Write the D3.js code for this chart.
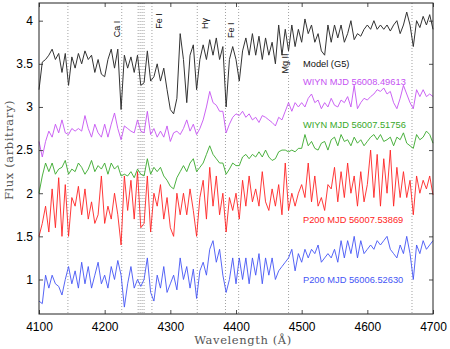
<!DOCTYPE html>
<html>
<head>
<meta charset="utf-8">
<script src="https://cdn.jsdelivr.net/npm/d3@7"></script>
<style>
  body { margin: 0; background: #fff; }
  svg { display: block; }
  .tick text { font-family: "Liberation Sans", Arial, sans-serif; font-size: 12px; fill: #000; }
</style>
</head>
<body>
<div id="chart"></div>
<script>
// Stacked spectra - flux vs wavelength, 5 A sampling

const wavelengths = d3.range(4100, 4701, 5);

const modelG5 = [
  3.2, 3.52, 3.55, 3.6, 3.67, 3.55, 3.62, 3.4, 3.62, 3.25,
  3.58, 3.45, 3.62, 3.5, 3.65, 3.55, 3.6, 3.4, 3.55, 3.38,
  3.35, 3.55, 3.67, 3.45, 3.67, 2.97, 3.6, 3.45, 3.58, 3.4,
  3.6, 3.25, 3.28, 3.65, 3.3, 3.35, 3.5, 3.3, 3.45, 3.2,
  2.97, 2.92, 3.1, 3.85, 3.55, 3.05, 3.6, 3.72, 3.2, 3.55,
  3.72, 3.55, 3.78, 3.6, 3.8, 3.55, 3.7, 3.0, 3.55, 3.7,
  3.55, 3.3, 3.65, 3.8, 3.6, 3.85, 3.6, 3.82, 3.55, 3.8,
  3.6, 3.75, 3.5, 3.95, 3.6, 3.9, 3.65, 3.95, 3.7, 3.9,
  3.75, 4.02, 3.85, 3.95, 3.75, 3.85, 3.65, 3.6, 3.95, 3.75,
  3.95, 3.8, 3.95, 3.75, 3.85, 4.0, 3.78, 3.85, 3.82, 3.9,
  3.95, 3.9, 4.0, 3.9, 3.95, 3.9, 3.95, 3.88, 3.95, 4.0,
  3.85, 3.95, 4.1, 3.95, 3.7, 4.0, 3.92, 4.05, 3.95, 4.07,
  3.9
];

const wiyn56008 = [
  2.6, 2.42, 2.6, 2.72, 2.65, 2.8, 2.7, 2.85, 2.7, 2.68,
  2.75, 2.72, 2.75, 2.72, 2.9, 2.75, 2.65, 2.8, 2.7, 2.65,
  2.8, 2.65, 2.8, 2.93, 2.75, 2.62, 2.78, 2.75, 2.72, 2.7,
  2.85, 2.72, 2.7, 2.95, 2.68, 2.75, 2.65, 2.72, 2.65, 2.78,
  2.6, 2.7, 2.72, 2.68, 2.75, 2.85, 2.72, 2.8, 2.68, 2.75,
  2.85, 3.0, 3.18, 3.05, 3.02, 2.95, 2.95, 2.7, 2.8, 2.88,
  2.92, 2.9, 2.95, 2.88, 2.92, 2.85, 2.88, 2.82, 2.9, 2.88,
  2.85, 2.82, 2.78, 2.88, 2.85, 2.95, 3.05, 2.95, 3.05, 3.0,
  3.05, 3.0, 3.1, 3.15, 3.05, 3.08, 2.98, 3.05, 3.0, 3.1,
  3.02, 3.0, 3.08, 3.05, 3.12, 3.0, 3.25, 2.98, 3.05, 3.1,
  3.08, 3.12, 3.15, 3.2, 3.18, 3.22, 3.15, 3.18, 3.05, 2.98,
  3.1, 3.25, 3.15, 3.05, 2.98, 3.2, 3.12, 3.2, 3.12, 3.15,
  3.12
];

const wiyn56007 = [
  2.0, 2.2, 2.35, 2.25, 2.35, 2.22, 2.28, 2.3, 2.38, 2.22,
  2.28, 2.25, 2.35, 2.3, 2.22, 2.28, 2.38, 2.25, 2.32, 2.28,
  2.35, 2.22, 2.35, 2.28, 2.32, 2.2, 2.22, 2.2, 2.25, 2.18,
  2.28, 2.22, 2.2, 2.4, 2.22, 2.3, 2.25, 2.3, 2.2, 2.15,
  2.08, 2.05, 2.18, 2.25, 2.32, 2.25, 2.35, 2.4, 2.25, 2.3,
  2.35, 2.45, 2.55, 2.45, 2.4, 2.35, 2.35, 2.22, 2.28, 2.35,
  2.32, 2.32, 2.42, 2.45, 2.4, 2.45, 2.42, 2.48, 2.42, 2.5,
  2.42, 2.38, 2.4, 2.48, 2.5, 2.5, 2.48, 2.5, 2.48, 2.52,
  2.52, 2.68, 2.55, 2.6, 2.52, 2.5, 2.58, 2.6, 2.5, 2.62,
  2.65, 2.55, 2.68, 2.6, 2.62, 2.55, 2.65, 2.58, 2.62, 2.55,
  2.6, 2.65, 2.68, 2.62, 2.68, 2.6, 2.62, 2.65, 2.55, 2.65,
  2.62, 2.7, 2.58, 2.55, 2.52, 2.68, 2.62, 2.65, 2.72, 2.68,
  2.58
];

const p200_56007 = [
  1.5, 1.65, 1.85, 1.55, 2.05, 1.6, 2.18, 1.5, 2.1, 1.5,
  1.95, 1.85, 2.08, 1.75, 2.05, 1.7, 1.9, 1.65, 1.75, 2.2,
  1.65, 1.85, 1.7, 2.0, 1.75, 1.4, 2.2, 1.8, 2.15, 1.7,
  2.25, 1.6, 1.65, 2.2, 1.55, 2.0, 1.85, 2.1, 1.7, 1.95,
  1.6, 1.5, 2.0, 1.75, 2.0, 1.75, 2.05, 1.8, 1.5, 1.95,
  2.15, 1.7, 2.3, 1.85, 2.2, 1.75, 2.0, 1.55, 1.95, 1.8,
  2.0, 1.7, 2.15, 1.85, 2.2, 1.9, 2.05, 1.85, 2.25, 1.9,
  1.8, 2.05, 1.85, 2.1, 1.75, 2.35, 1.8, 2.0, 1.85, 2.0,
  2.1, 1.95, 2.35, 1.9, 2.2, 1.85, 1.95, 1.8, 2.1, 2.05,
  2.3, 1.9, 2.25, 1.95, 2.35, 2.0, 2.2, 1.85, 2.25, 1.9,
  2.1, 2.5, 1.95, 2.45, 1.85, 2.4, 2.0, 2.5, 1.85, 2.3,
  1.95, 2.25, 1.95, 2.15, 1.75, 2.2, 2.0, 2.15, 2.05, 2.2,
  1.98
];

const p200_56006 = [
  0.75, 0.72, 1.05, 0.9, 1.05, 0.95, 0.92, 0.82, 1.0, 1.15,
  0.95, 1.1, 0.9, 1.2, 0.95, 1.15, 0.9, 1.05, 1.2, 0.95,
  1.05, 0.9, 1.15, 1.0, 1.22, 1.05, 0.68, 0.95, 1.15, 0.9,
  1.0, 0.92, 1.0, 1.25, 0.85, 0.75, 1.05, 0.9, 1.15, 0.85,
  0.95, 1.05, 0.88, 1.25, 1.0, 1.15, 0.9, 1.12, 0.78, 1.1,
  1.2, 1.05, 1.35, 1.45, 1.2, 1.35, 1.05, 0.85, 1.0, 1.25,
  0.95, 1.25, 1.0, 1.25, 0.95, 1.25, 1.05, 1.3, 0.95, 1.25,
  1.05, 1.25, 1.0, 1.1, 1.15, 1.2, 1.25, 1.35, 1.1, 1.3,
  1.2, 1.35, 1.25, 1.35, 1.3, 1.4, 1.2, 1.25, 1.3, 1.25,
  1.35, 1.2, 1.45, 1.25, 1.45, 1.3, 1.5, 1.25, 1.45, 1.3,
  1.35, 1.4, 1.35, 1.45, 1.4, 1.45, 1.5, 1.35, 1.3, 1.25,
  1.4, 1.3, 1.5, 1.3, 1.0, 1.4, 1.3, 1.45, 1.35, 1.4,
  1.45
];

const seriesNames = ['Model (G5)', 'WIYN MJD 56008.49613', 'WIYN MJD 56007.51756', 'P200 MJD 56007.53869', 'P200 MJD 56006.52630'];
const seriesValues = [modelG5, wiyn56008, wiyn56007, p200_56007, p200_56006];
const seriesColors = ['#333333', '#c552f2', '#38a82a', '#ff2424', '#4455f5'];
// label anchor in data units (wavelength, flux)
const labelX = [4502, 4502, 4502, 4502, 4502];
const labelY = [3.5, 3.3, 2.8, 1.7, 1.0];

// Absorption line markers
const lineWaves = [4144, 4226, 4251, 4254, 4257, 4260, 4272, 4341, 4384, 4404, 4480, 4668];
const lineLabelText = ['Ca I', 'Fe I', 'H\u03b3', 'Fe I', 'Mg II'];
const lineLabelWave = [4226, 4272, 4341, 4384, 4480];
const lineLabelTop = [4.0, 4.085, 4.03, 3.98, 3.62];
// which side of the dotted line each label sits (px offset of the text baseline)
const lineLabelDx = [-2, 10, 11, 9, -1];

const xTicks = [4100, 4200, 4300, 4400, 4500, 4600, 4700];
const yTicks = [1, 1.5, 2, 2.5, 3, 3.5, 4];

const W = 450, H = 349;
const margin = { top: 3, right: 17, bottom: 35, left: 39 };
const width = W - margin.left - margin.right;
const height = H - margin.top - margin.bottom;

const svg = d3.select('#chart').append('svg')
  .attr('width', W).attr('height', H);

const g = svg.append('g')
  .attr('transform', `translate(${margin.left},${margin.top})`);

const x = d3.scaleLinear().domain([4100, 4700]).range([0, width]);
const y = d3.scaleLinear().domain([0.6, 4.205]).range([height, 0]);

// dotted line markers
g.selectAll('.marker')
  .data(lineWaves)
  .enter().append('line')
  .attr('class', 'marker')
  .attr('x1', d => x(d)).attr('x2', d => x(d))
  .attr('y1', 0).attr('y2', height)
  .attr('stroke', '#8a8a8a')
  .attr('stroke-width', 0.8)
  .attr('stroke-dasharray', '1,2');

const line = d3.line()
  .x((d, i) => x(wavelengths[i]))
  .y(d => y(d));

seriesValues.forEach((vals, k) => {
  g.append('path')
    .datum(vals)
    .attr('d', line)
    .attr('fill', 'none')
    .attr('stroke', seriesColors[k])
    .attr('stroke-width', k === 0 ? 1 : 0.9)
    .attr('stroke-linejoin', 'round');
});

// series labels
seriesNames.forEach((name, k) => {
  g.append('text')
    .attr('x', x(labelX[k]))
    .attr('y', y(labelY[k]) + 3.5)
    .attr('font-family', '"Liberation Sans", Arial, sans-serif')
    .attr('font-size', '9.3px')
    .attr('fill', k === 0 ? '#111' : seriesColors[k])
    .text(name);
});

// line labels, rotated
lineLabelText.forEach((t, k) => {
  g.append('text')
    .attr('transform', `translate(${x(lineLabelWave[k]) + lineLabelDx[k]},${y(lineLabelTop[k])}) rotate(-90)`)
    .attr('text-anchor', 'end')
    .attr('font-family', '"Liberation Sans", Arial, sans-serif')
    .attr('font-size', '9px')
    .attr('fill', '#111')
    .text(t);
});

// axes with inward ticks, mirrored
const tickLen = 4;
g.append('g')
  .attr('transform', `translate(0,${height})`)
  .call(d3.axisBottom(x).tickValues(xTicks).tickSize(-tickLen).tickPadding(8).tickFormat(d3.format('d')))
  .call(a => a.select('.domain').remove());
g.append('g')
  .call(d3.axisTop(x).tickValues(xTicks).tickSize(-tickLen).tickFormat(''))
  .call(a => a.select('.domain').remove());
g.append('g')
  .call(d3.axisLeft(y).tickValues(yTicks).tickSize(-tickLen).tickPadding(6).tickFormat(d => d))
  .call(a => a.select('.domain').remove());
g.append('g')
  .attr('transform', `translate(${width},0)`)
  .call(d3.axisRight(y).tickValues(yTicks).tickSize(-tickLen).tickFormat(''))
  .call(a => a.select('.domain').remove());

g.selectAll('.tick line').attr('stroke', '#222').attr('stroke-width', 0.8);

g.append('rect')
  .attr('width', width).attr('height', height)
  .attr('fill', 'none')
  .attr('stroke', '#222')
  .attr('stroke-width', 1);

// axis titles
svg.append('text')
  .attr('x', 243)
  .attr('y', H - 5)
  .attr('text-anchor', 'middle')
  .attr('font-family', '"DejaVu Serif", serif')
  .attr('font-size', '11.5px')
  .attr('letter-spacing', '0.6px')
  .attr('fill', '#555')
  .text('Wavelength (\u00c5)');

svg.append('text')
  .attr('transform', `translate(13,150) rotate(-90)`)
  .attr('text-anchor', 'middle')
  .attr('font-family', '"DejaVu Serif", serif')
  .attr('font-size', '11.5px')
  .attr('letter-spacing', '0.6px')
  .attr('fill', '#555')
  .text('Flux (arbitrary)');
</script>
</body>
</html>
